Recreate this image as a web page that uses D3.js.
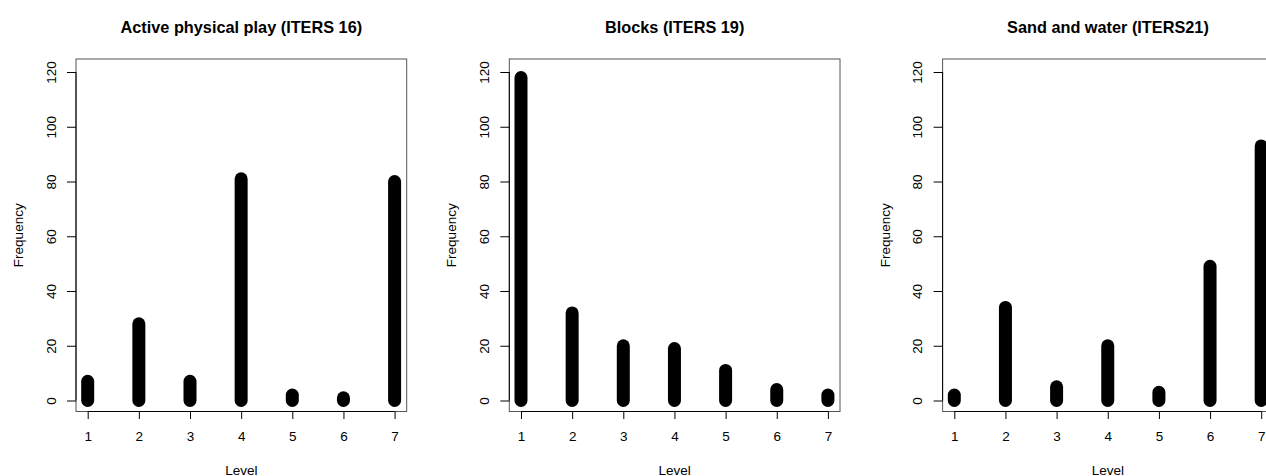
<!DOCTYPE html>
<html>
<head>
<meta charset="utf-8">
<script src="https://cdn.jsdelivr.net/npm/d3@7"></script>
<style>
  html, body { margin: 0; padding: 0; background: #fff; }
  svg { display: block; }
  text { font-family: "Liberation Sans", Arial, Helvetica, sans-serif; fill: #000; }
</style>
</head>
<body>
<svg id="chart" width="1266" height="476"></svg>
<script>
// ---- data ----
const levels = [1, 2, 3, 4, 5, 6, 7];
const titles = ["Active physical play (ITERS 16)", "Blocks (ITERS 19)", "Sand and water (ITERS21)"];
const activePhysicalPlay = [7, 28, 7, 81, 2, 1, 80];
const blocks = [118, 32, 20, 19, 11, 4, 2];
const sandAndWater = [2, 34, 5, 20, 3, 49, 93];
const yTicks = [0, 20, 40, 60, 80, 100, 120];
const xLabel = "Level";
const yLabel = "Frequency";

const series = [activePhysicalPlay, blocks, sandAndWater];

// ---- layout ----
const svg = d3.select("#chart");
const panelStep = 433.3;
const boxLeft = 76, boxRight = 406.7, boxTop = 59, boxBottom = 411.5;
const barWidth = 13;

series.forEach((vals, i) => {
  const g = svg.append("g").attr("transform", `translate(${i * panelStep},0)`);
  const x = d3.scaleLinear().domain([1, 7]).range([87.7, 394.6]);
  const y = d3.scaleLinear().domain([0, 120]).range([400.5, 72]);
  const cx = (boxLeft + boxRight) / 2;

  // box
  g.append("rect")
    .attr("x", boxLeft).attr("y", boxTop)
    .attr("width", boxRight - boxLeft).attr("height", boxBottom - boxTop)
    .attr("fill", "none").attr("stroke", "#555").attr("stroke-width", 1);

  // bars (type = "h")
  g.selectAll("line.bar").data(levels.map((l, j) => ({ l, v: vals[j] })))
    .enter().append("line").attr("class", "bar")
    .attr("x1", d => x(d.l)).attr("x2", d => x(d.l))
    .attr("y1", y(0)).attr("y2", d => y(d.v))
    .attr("stroke", "#000").attr("stroke-width", barWidth)
    .attr("stroke-linecap", "round");

  // x axis
  const xAxis = d3.axisBottom(x).tickValues(levels).tickFormat(d3.format("d"))
    .tickSize(7.5).tickPadding(12).tickSizeOuter(0);
  const gx = g.append("g").attr("transform", `translate(0,${boxBottom})`).call(xAxis);
  gx.select(".domain").attr("d", `M${x(1)},0H${x(7)}`).attr("stroke", "#000");
  gx.selectAll(".tick line").attr("stroke", "#000");
  gx.selectAll(".tick text").attr("font-size", "13.5px")
    .attr("font-family", "'Liberation Sans', Arial, sans-serif").attr("fill", "#111");

  // y axis
  const yAxis = d3.axisLeft(y).tickValues(yTicks).tickFormat(d3.format("d"))
    .tickSize(9).tickSizeOuter(0);
  const gy = g.append("g").attr("transform", `translate(${boxLeft},0)`).call(yAxis);
  gy.select(".domain").attr("d", `M0,${y(0)}V${y(120)}`).attr("stroke", "#000");
  gy.selectAll(".tick line").attr("stroke", "#000");
  gy.selectAll(".tick text")
    .attr("x", null).attr("dy", null)
    .attr("text-anchor", "middle")
    .attr("transform", `translate(${55.5 - boxLeft},0) rotate(-90)`)
    .attr("font-size", "13.5px")
    .attr("font-family", "'Liberation Sans', Arial, sans-serif").attr("fill", "#111");

  // title
  g.append("text").attr("x", cx).attr("y", 32.7)
    .attr("text-anchor", "middle").attr("font-weight", "bold").attr("font-size", "16.3px")
    .text(titles[i]);

  // axis labels
  g.append("text").attr("x", cx).attr("y", 474.5)
    .attr("text-anchor", "middle").attr("font-size", "13.5px").attr("fill", "#111")
    .text(xLabel);
  g.append("text")
    .attr("transform", `translate(23,${(boxTop + boxBottom) / 2}) rotate(-90)`)
    .attr("text-anchor", "middle").attr("font-size", "13.5px").attr("fill", "#111")
    .text(yLabel);
});
</script>
</body>
</html>
